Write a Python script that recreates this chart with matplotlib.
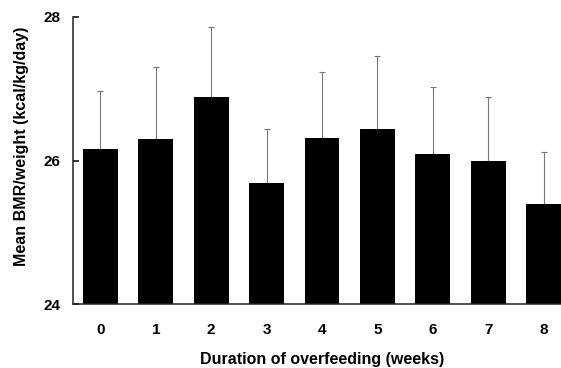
import matplotlib
matplotlib.use("Agg")
import matplotlib.pyplot as plt

weeks = ["0", "1", "2", "3", "4", "5", "6", "7", "8"]
mean_bmr = [26.16, 26.30, 26.89, 25.69, 26.31, 26.44, 26.09, 25.99, 25.39]
err_top = [26.97, 27.31, 27.86, 26.44, 27.24, 27.45, 27.02, 26.89, 26.12]
sd = [t - m for t, m in zip(err_top, mean_bmr)]
yticks = [24, 26, 28]

plt.rcParams['font.family'] = ['Liberation Sans', 'DejaVu Sans']
plt.rcParams['font.weight'] = 'bold'

fig = plt.figure(figsize=(5.61, 3.68), dpi=100)
ax = fig.add_axes([72.7/561, 64/368, (571.2-72.7)/561, 287/368])
x = list(range(len(weeks)))
ax.bar(x, [m - 24 for m in mean_bmr], bottom=24, width=0.63, color='black', zorder=2)
ax.errorbar(x, mean_bmr, yerr=[[0]*len(sd), sd], fmt='none', ecolor='#777777',
            elinewidth=0.8, capsize=2, capthick=0.8, zorder=1)
ax.set_xlim(-0.5, 8.5)
ax.set_ylim(24, 28)
ax.set_yticks(yticks)
ax.set_xticks(x)
ax.set_xticklabels(weeks)
ax.spines['top'].set_visible(False)
ax.spines['right'].set_visible(False)
ax.spines['left'].set_linewidth(1.1)
ax.spines['left'].set_color('#222222')
ax.spines['bottom'].set_linewidth(1.1)
ax.spines['bottom'].set_color('#222222')
ax.tick_params(axis='x', length=0, pad=14, labelsize=11)
ax.tick_params(axis='y', direction='in', length=4, width=1.1, labelsize=11, pad=9)
ax.set_xlabel("Duration of overfeeding (weeks)", fontsize=11.5, fontweight='bold')
ax.set_ylabel("Mean BMR/weight (kcal/kg/day)", fontsize=11.5, fontweight='bold')
ax.yaxis.set_label_coords(-0.088, 0.549)
ax.xaxis.set_label_coords(0.5, -0.168)
fig.savefig("out.png", dpi=100)
